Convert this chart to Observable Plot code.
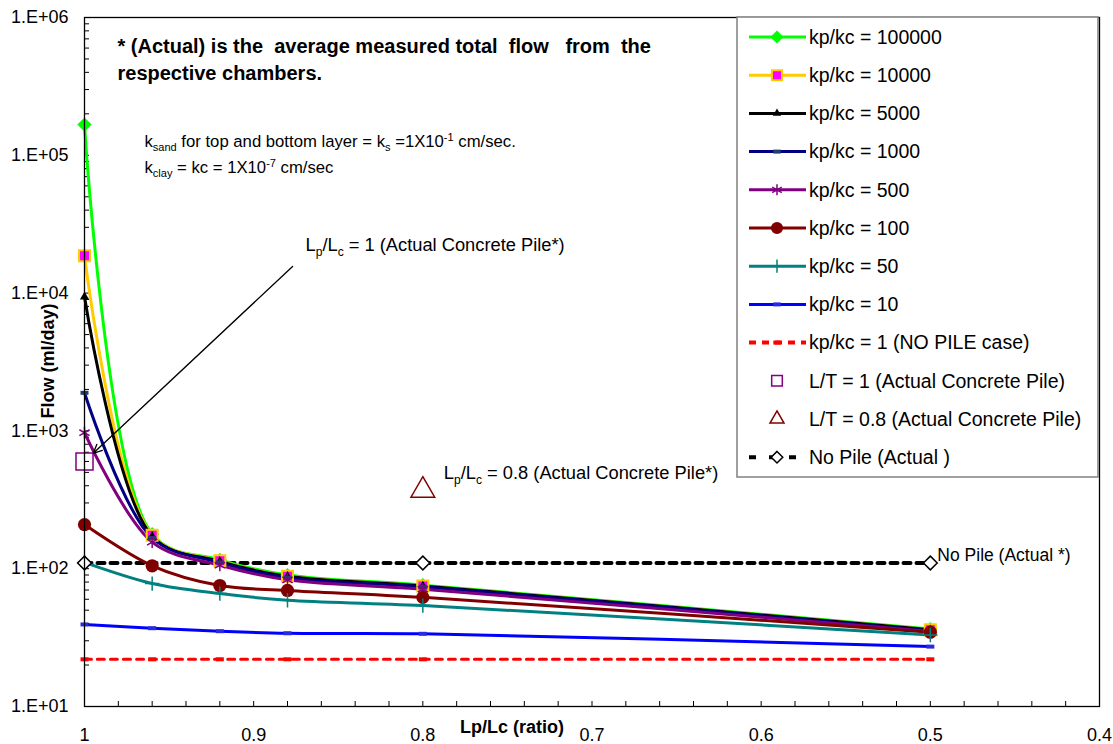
<!DOCTYPE html>
<html>
<head>
<meta charset="utf-8">
<script src="https://cdn.jsdelivr.net/npm/d3@7"></script>
<script src="https://cdn.jsdelivr.net/npm/@observablehq/plot@0.6"></script>
<style>
  body { margin: 0; background: #fff; }
  svg text { white-space: pre; }
</style>
</head>
<body>
<div id="chart"></div>
<script>
// ---------------- data ----------------
const ratios = [1, 0.96, 0.92, 0.88, 0.8, 0.5];
const seriesNames = [
  "kp/kc = 100000", "kp/kc = 10000", "kp/kc = 5000", "kp/kc = 1000",
  "kp/kc = 500", "kp/kc = 100", "kp/kc = 50", "kp/kc = 10", "kp/kc = 1 (NO PILE case)"
];
const flow100000 = [167000, 178, 116, 90, 76, 36.5];
const flow10000  = [18700, 175, 114, 88, 75, 36];
const flow5000   = [9400, 172, 113, 88, 75, 36];
const flow1000   = [1890, 167, 111, 86, 74, 35.5];
const flow500    = [970, 156, 106, 83, 71, 35];
const flow100    = [209, 105, 75.5, 69.5, 62, 34.6];
const flow50     = [111, 78, 66, 59, 54, 33];
const flow10     = [39.4, 37, 35.2, 34, 33.7, 27.2];
const flow1      = [22, 22, 22, 22, 22, 22];
const seriesFlows = [flow100000, flow10000, flow5000, flow1000, flow500, flow100, flow50, flow10, flow1];

const noPileRatios = [1, 0.8, 0.5];
const noPileFlow = [110, 110, 110];
const concretePileNames = ["L/T = 1 (Actual Concrete Pile)", "L/T = 0.8 (Actual Concrete Pile)"];
const concretePileRatios = [1, 0.8];
const concretePileFlow = [600, 370];

const xTicks = [1, 0.9, 0.8, 0.7, 0.6, 0.5, 0.4];
const yTicks = [1e1, 1e2, 1e3, 1e4, 1e5, 1e6];
const yTickLabels = ["1.E+01", "1.E+02", "1.E+03", "1.E+04", "1.E+05", "1.E+06"];

// ---------------- styles ----------------
const dashSymbol = {draw(ctx, size) { const r = Math.sqrt(size / Math.PI); ctx.moveTo(-r, 0); ctx.lineTo(r, 0); }};
const seriesStyles = [
  {color: "#00ff00", symbol: d3.symbolDiamond2, fill: "#00ff00", mstroke: "none", r: 6.4},
  {color: "#ffcc00", symbol: d3.symbolSquare, fill: "#ff00ff", mstroke: "#ffcc00", r: 6.2, msw: 2},
  {color: "#000000", symbol: d3.symbolTriangle, fill: "#000000", mstroke: "none", r: 3.4},
  {color: "#000080", symbol: dashSymbol, fill: "none", mstroke: "#1f3f6f", r: 4, msw: 4},
  {color: "#800080", symbol: d3.symbolAsterisk, fill: "none", mstroke: "#800080", r: 5.6, msw: 1.5},
  {color: "#800000", symbol: d3.symbolCircle, fill: "#800000", mstroke: "none", r: 6.6},
  {color: "#008080", symbol: d3.symbolPlus, fill: "none", mstroke: "#008080", r: 4.7, msw: 1.5},
  {color: "#0000ff", symbol: dashSymbol, fill: "none", mstroke: "#2a2ae0", r: 4, msw: 4},
  {color: "#ff0000", symbol: dashSymbol, fill: "none", mstroke: "#ff0000", r: 4, msw: 4, dash: "7,6"}
];

const W = 1113, H = 744;
const M = {top: 17, right: 14, bottom: 38, left: 84};
const plotW = W - M.left - M.right, plotH = H - M.top - M.bottom;

const rows = seriesFlows.flatMap((vals, i) => ratios.map((r, j) => ({series: i, ratio: r, flow: vals[j]})));
const noPileRows = noPileRatios.map((r, j) => ({ratio: r, flow: noPileFlow[j]}));
const pileRows = concretePileRatios.map((r, j) => ({ratio: r, flow: concretePileFlow[j], name: concretePileNames[j]}));

const xMinor = d3.range(0, 31).map(i => +(1 - i * 0.02).toFixed(2));
const yMinor = d3.scaleLog().domain([10, 1e6]).ticks();

const lineMarks = [];
const dotMarks = [];
seriesStyles.forEach((s, i) => {
  const data = rows.filter(d => d.series === i);
  lineMarks.push(Plot.line(data, {x: "ratio", y: "flow", stroke: s.color, strokeWidth: 3,
    curve: "catmull-rom", strokeDasharray: s.dash || null}));
  dotMarks.push(Plot.dot(data, {x: "ratio", y: "flow", symbol: () => s.symbol, r: s.r,
    fill: s.fill, stroke: s.mstroke, strokeWidth: s.msw || 1.5}));
});

const chart = Plot.plot({
  width: W, height: H,
  marginTop: M.top, marginRight: M.right, marginBottom: M.bottom, marginLeft: M.left,
  style: {fontFamily: "'Liberation Sans', Arial, sans-serif", background: "#fff", color: "#000"},
  x: {domain: [1, 0.4]},
  y: {type: "log", domain: [10, 1e6]},
  marks: [
    // inward minor ticks
    Plot.ruleX(xMinor, {x: d => d, insetTop: plotH - 5, stroke: "#000", strokeWidth: 1}),
    Plot.ruleY(yMinor, {y: d => d, insetRight: plotW - 5, stroke: "#000", strokeWidth: 1}),
    Plot.axisX({ticks: xTicks, tickSize: 0, tickPadding: 22, fontSize: 18,
      tickFormat: d => String(+d.toFixed(1)), label: null}),
    Plot.axisY({ticks: yTicks, tickSize: 0, tickPadding: 16, fontSize: 18,
      tickFormat: d => yTickLabels[yTicks.indexOf(d)], label: null}),
    // No pile (actual) dashed line
    Plot.line(noPileRows, {x: "ratio", y: "flow", stroke: "#000", strokeWidth: 4, strokeDasharray: "7,6"}),
    ...lineMarks,
    ...dotMarks,
    Plot.dot(noPileRows, {x: "ratio", y: "flow", symbol: () => d3.symbolDiamond2, r: 6.2,
      fill: "#fff", stroke: "#000", strokeWidth: 1.5}),
    Plot.dot(pileRows.slice(0, 1), {x: "ratio", y: "flow", symbol: () => d3.symbolSquare, r: 9.6,
      fill: "none", stroke: "#800080", strokeWidth: 1.5}),
    Plot.dot(pileRows.slice(1), {x: "ratio", y: "flow", symbol: () => d3.symbolTriangle, r: 8.8,
      fill: "none", stroke: "#800000", strokeWidth: 1.5}),
    // arrow to L/T = 1 point
    Plot.arrow(pileRows.slice(0, 1), {x1: () => 0.877, y1: () => 15600, x2: "ratio", y2: "flow",
      insetEnd: 12, stroke: "#000", strokeWidth: 1.3, headLength: 11, headAngle: 50, bend: 0}),
    Plot.frame({stroke: "#000", strokeWidth: 1.3}),
    // annotations
    Plot.text(["* (Actual) is the  average measured total  flow   from  the\nrespective chambers."], {
      text: d => d, frameAnchor: "top-left", textAnchor: "start", lineAnchor: "middle",
      dx: 33, dy: 40.5, lineHeight: 1.36, fontSize: 20, fontWeight: "bold"}),
    Plot.text(["k_{sand} for top and bottom layer = k_{s} =1X10^{-1} cm/sec."], {
      text: d => d, frameAnchor: "top-left", textAnchor: "start", lineAnchor: "middle",
      dx: 60, dy: 124, fontSize: 16.7}),
    Plot.text(["k_{clay} = kc = 1X10^{-7} cm/sec"], {
      text: d => d, frameAnchor: "top-left", textAnchor: "start", lineAnchor: "middle",
      dx: 60, dy: 150, fontSize: 16.7}),
    Plot.text(["L_{p}/L_{c} = 1 (Actual Concrete Pile*)"], {
      text: d => d, frameAnchor: "top-left", textAnchor: "start", lineAnchor: "middle",
      dx: 221, dy: 228, fontSize: 18.3}),
    Plot.text(pileRows.slice(1), {x: "ratio", y: "flow", text: () => "L_{p}/L_{c} = 0.8 (Actual Concrete Pile*)",
      textAnchor: "start", lineAnchor: "middle", dx: 21, dy: -17, fontSize: 18.3}),
    Plot.text(noPileRows.slice(-1), {x: "ratio", y: "flow", text: () => "No Pile (Actual *)",
      textAnchor: "start", lineAnchor: "middle", dx: 7, dy: -8, fontSize: 17.5}),
    // axis titles
    Plot.text(["Lp/Lc (ratio)"], {text: d => d, frameAnchor: "bottom", dx: -80, dy: 21,
      textAnchor: "middle", lineAnchor: "middle", fontSize: 18, fontWeight: "bold"}),
    Plot.text(["Flow (ml/day)"], {text: d => d, frameAnchor: "left", dx: -36, dy: -1, rotate: -90,
      textAnchor: "middle", lineAnchor: "middle", fontSize: 18, fontWeight: "bold"})
  ]
});

document.getElementById("chart").appendChild(chart);

// ---------------- rich text (sub/superscripts) ----------------
d3.select(chart).selectAll("text").each(function() {
  const t = this.textContent;
  if (!/[_^]\{/.test(t)) return;
  const fs = parseFloat(getComputedStyle(this).fontSize) || 16;
  const sel = d3.select(this);
  sel.text(null);
  const re = /([_^])\{([^}]*)\}/g;
  let last = 0, m, shift = 0;
  while ((m = re.exec(t))) {
    if (m.index > last) { sel.append("tspan").attr("dy", shift ? -shift : null).text(t.slice(last, m.index)); shift = 0; }
    const s = m[1] === "_" ? 0.25 * fs : -0.38 * fs;
    sel.append("tspan").attr("font-size", fs * 0.66).attr("dy", s - shift).text(m[2]);
    shift = s;
    last = re.lastIndex;
  }
  if (last < t.length) sel.append("tspan").attr("dy", shift ? -shift : null).text(t.slice(last));
});

// ---------------- legend ----------------
const legendEntries = [
  ...seriesNames.map((n, i) => ({name: n, line: seriesStyles[i].color, dash: seriesStyles[i].dash,
    symbol: seriesStyles[i].symbol, fill: seriesStyles[i].fill, mstroke: seriesStyles[i].mstroke,
    r: seriesStyles[i].r * 0.92, msw: seriesStyles[i].msw || 1.5})),
  {name: concretePileNames[0], line: null, symbol: d3.symbolSquare, fill: "none", mstroke: "#800080", r: 6, msw: 1.5},
  {name: concretePileNames[1], line: null, symbol: d3.symbolTriangle, fill: "none", mstroke: "#800000", r: 5.2, msw: 1.5},
  {name: "No Pile (Actual )", line: "#000", dash: "7,13", symbol: d3.symbolDiamond2, fill: "#fff", mstroke: "#000", r: 5.2, msw: 1.5}
];
const lg = d3.select(chart).append("g")
  .attr("font-family", "'Liberation Sans', Arial, sans-serif").attr("text-anchor", "start");
lg.append("rect").attr("x", 737).attr("y", 17).attr("width", 361).attr("height", 460)
  .attr("fill", "#fff").attr("stroke", "#808080").attr("stroke-width", 1.5);
legendEntries.forEach((e, i) => {
  const y = 37 + i * 38.2;
  const g = lg.append("g");
  if (e.line) {
    g.append("line").attr("x1", 749).attr("x2", 806).attr("y1", y).attr("y2", y)
      .attr("stroke", e.line).attr("stroke-width", e.dash ? 4 : 3).attr("stroke-dasharray", e.dash || null);
  }
  g.append("path").attr("transform", `translate(777,${y})`)
    .attr("d", d3.symbol(e.symbol, e.r * e.r * Math.PI)())
    .attr("fill", e.fill).attr("stroke", e.mstroke).attr("stroke-width", e.msw);
  g.append("text").attr("x", 809).attr("y", y).attr("dy", "0.35em").attr("font-size", 19.5)
    .attr("text-anchor", "start").attr("fill", "#000").text(e.name);
});
</script>
</body>
</html>
